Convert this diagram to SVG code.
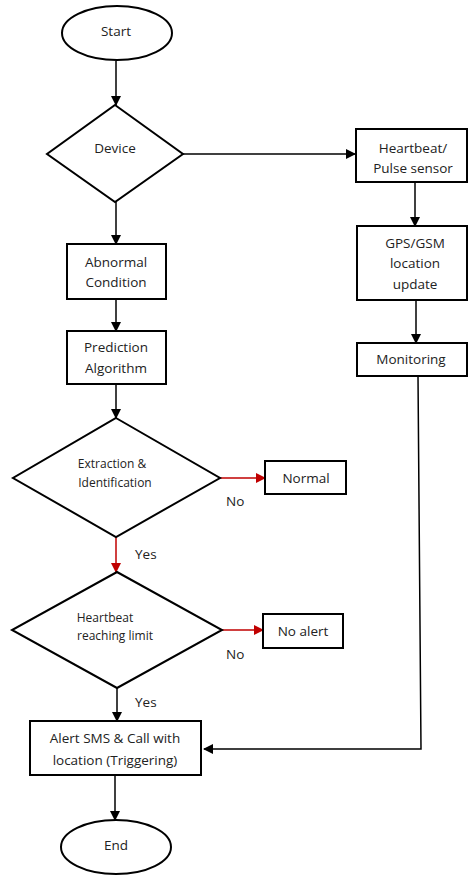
<svg xmlns="http://www.w3.org/2000/svg" width="468" height="875" viewBox="0 0 468 875">
<style>
.s{fill:#fff;stroke:#000;stroke-width:2}
.t{font-family:"Open Sans","Liberation Sans",sans-serif;font-size:13.5px;fill:#222;text-anchor:middle;dominant-baseline:central}
.d{font-size:12px}
.c{fill:none;stroke:#000;stroke-width:1.5}
.r{fill:none;stroke:#c00000;stroke-width:1.5}
.l{font-family:"Open Sans","Liberation Sans",sans-serif;font-size:13.5px;fill:#222;dominant-baseline:central}
</style>
<defs>
<marker id="a" markerWidth="10" markerHeight="10" refX="9" refY="5" orient="auto" markerUnits="userSpaceOnUse"><path d="M0,0 L10,5 L0,10 Z" fill="#000"/></marker>
<marker id="ar" markerWidth="10" markerHeight="10" refX="9" refY="5" orient="auto" markerUnits="userSpaceOnUse"><path d="M0,0 L10,5 L0,10 Z" fill="#c00000"/></marker>
</defs>
<rect width="468" height="875" fill="#fff"/>
<g id="connectors">
<path class="c" d="M116,61 V105" marker-end="url(#a)"/>
<path class="c" d="M183,154 H355" marker-end="url(#a)"/>
<path class="c" d="M415,182 V226" marker-end="url(#a)"/>
<path class="c" d="M416,300 V343" marker-end="url(#a)"/>
<path class="c" d="M418,376 L421,749 H204" marker-end="url(#a)"/>
<path class="c" d="M116,202 V244" marker-end="url(#a)"/>
<path class="c" d="M116,299 V331" marker-end="url(#a)"/>
<path class="c" d="M116,384 V418" marker-end="url(#a)"/>
<path class="r" d="M220,478 H265" marker-end="url(#ar)"/>
<path class="r" d="M116,537 V572" marker-end="url(#ar)"/>
<path class="r" d="M222,630 H263" marker-end="url(#ar)"/>
<path class="c" d="M117,688 V721" marker-end="url(#a)"/>
<path class="c" d="M115,775 V820" marker-end="url(#a)"/>
<text class="l" x="226" y="501">No</text>
<text class="l" x="135" y="554">Yes</text>
<text class="l" x="226" y="654">No</text>
<text class="l" x="135" y="702">Yes</text>
</g>
<g id="start"><ellipse class="s" cx="117" cy="33" rx="55" ry="27"/><text class="t" x="116" y="31">Start</text></g>
<g id="device"><polygon class="s" points="115,105 183,154 115,202 47,154"/><text class="t" x="115" y="148">Device</text></g>
<g id="heartbeat-sensor"><rect class="s" x="356" y="129" width="111" height="53"/><text class="t" x="413" y="148">Heartbeat/</text><text class="t" x="413" y="168">Pulse sensor</text></g>
<g id="gps"><rect class="s" x="357" y="226" width="110" height="74"/><text class="t" x="415" y="243">GPS/GSM</text><text class="t" x="415" y="263">location</text><text class="t" x="415" y="284">update</text></g>
<g id="monitoring"><rect class="s" x="357" y="343" width="110" height="33"/><text class="t" x="411" y="359">Monitoring</text></g>
<g id="abnormal"><rect class="s" x="67" y="244" width="99" height="55"/><text class="t" x="116" y="262">Abnormal</text><text class="t" x="116" y="282">Condition</text></g>
<g id="prediction"><rect class="s" x="67" y="331" width="99" height="53"/><text class="t" x="116" y="347">Prediction</text><text class="t" x="116" y="368">Algorithm</text></g>
<g id="extraction"><polygon class="s" points="116,418 220,478 116,537 13,478"/><text class="t d" x="112" y="463">Extraction &amp;</text><text class="t d" x="115" y="482">Identification</text></g>
<g id="normal"><rect class="s" x="265" y="461" width="81" height="33"/><text class="t" x="306" y="478">Normal</text></g>
<g id="limit"><polygon class="s" points="117,572 222,630 117,688 12,630"/><text class="t d" x="105" y="617">Heartbeat</text><text class="t d" x="115" y="635">reaching limit</text></g>
<g id="noalert"><rect class="s" x="263" y="614" width="80" height="34"/><text class="t" x="303" y="631">No alert</text></g>
<g id="alert"><rect class="s" x="30" y="721" width="171" height="54"/><text class="t" x="115" y="738">Alert SMS &amp; Call with</text><text class="t" x="115" y="760">location (Triggering)</text></g>
<g id="end"><ellipse class="s" cx="116" cy="847" rx="55" ry="27"/><text class="t" x="116" y="845">End</text></g>
</svg>
